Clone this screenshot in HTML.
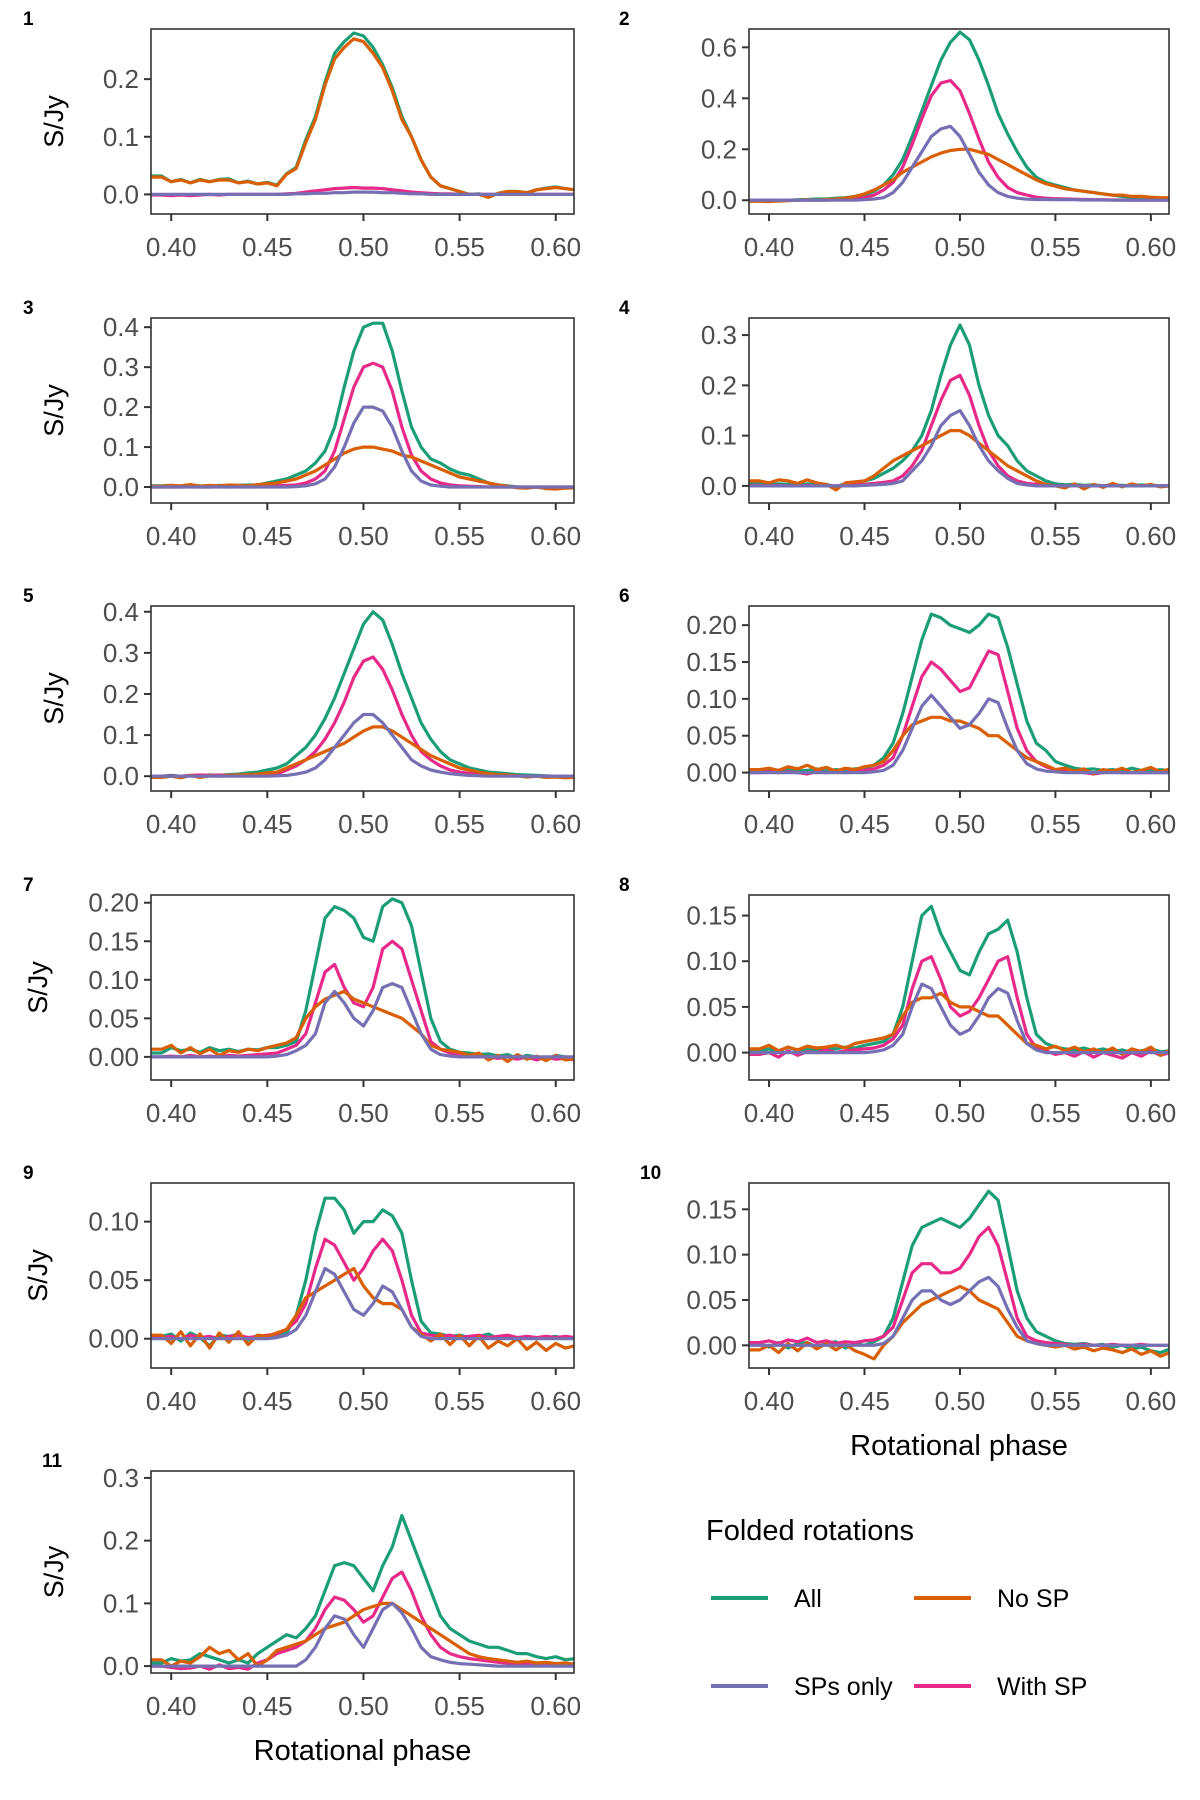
<!DOCTYPE html>
<html><head><meta charset="utf-8"><style>
body{margin:0;background:#fff;}
svg{display:block;font-family:"Liberation Sans",sans-serif;}
</style></head><body>
<svg id="fig" width="1200" height="1800" viewBox="0 0 1200 1800"></svg>
<script>
const xs=[0.395,0.400,0.405,0.410,0.415,0.420,0.425,0.430,0.435,0.440,0.445,0.450,0.455,0.460,0.465,0.470,0.475,0.480,0.485,0.490,0.495,0.500,0.505,0.510,0.515,0.520,0.525,0.530,0.535,0.540,0.545,0.550,0.555,0.560,0.565,0.570,0.575,0.580,0.585,0.590,0.595,0.600,0.605,0.610,0.615];
const seriesNames=["All","No SP","SPs only","With SP"];
const xTicks=[0.40,0.45,0.50,0.55,0.60];
const xTickLabels=["0.40","0.45","0.50","0.55","0.60"];
// panel 1
const p1All=[0.032,0.022,0.026,0.020,0.026,0.022,0.026,0.027,0.020,0.023,0.018,0.021,0.016,0.036,0.047,0.095,0.135,0.195,0.245,0.265,0.28,0.275,0.255,0.225,0.185,0.135,0.100,0.060,0.030,0.015,0.010,0.005,0.000,0.001,-0.005,0.002,0.005,0.005,0.003,0.008,0.011,0.013,0.010,0.008,0.008];
const p1NoSP=[0.030,0.022,0.025,0.020,0.025,0.022,0.025,0.025,0.020,0.022,0.018,0.020,0.015,0.035,0.045,0.090,0.130,0.190,0.235,0.255,0.270,0.265,0.245,0.220,0.180,0.130,0.100,0.060,0.030,0.015,0.010,0.005,0.000,0.000,-0.005,0.002,0.005,0.005,0.003,0.008,0.010,0.012,0.010,0.008,0.008];
const p1SP=[0,0,0,0,0,0,0,0,0,0,0,0,0,0,0.001,0.001,0.002,0.002,0.003,0.003,0.004,0.004,0.004,0.003,0.003,0.002,0.001,0.001,0,0,0,0,0,0,0,0,0,0,0,0,0,0,0,0,0];
const p1With=[-0.001,-0.002,-0.001,-0.002,-0.001,0,-0.001,0,0,0,0,0,0,0.001,0.002,0.004,0.006,0.008,0.010,0.011,0.012,0.011,0.011,0.010,0.008,0.006,0.004,0.003,0.002,0.001,0.001,0,0,0,0,0,0,0,0,0,0,0,0,0,0];
// panel 2
const p2All=[0,-0.002,0,0,0.002,0.003,0.005,0.005,0.008,0.010,0.015,0.020,0.035,0.060,0.100,0.160,0.250,0.350,0.450,0.550,0.620,0.660,0.630,0.550,0.450,0.340,0.260,0.190,0.130,0.090,0.070,0.060,0.050,0.040,0.035,0.030,0.025,0.020,0.015,0.012,0.010,0.010,0.008,0.008,0.008];
const p2NoSP=[-0.004,-0.005,-0.003,-0.002,0,0.002,0,0.003,0.005,0.008,0.015,0.025,0.040,0.060,0.080,0.110,0.130,0.150,0.170,0.185,0.195,0.200,0.200,0.190,0.180,0.160,0.140,0.120,0.100,0.080,0.065,0.055,0.045,0.040,0.035,0.030,0.025,0.020,0.020,0.015,0.015,0.012,0.010,0.010,0.010];
const p2SP=[0,0,0,0,0,0,0,0,0,0,0,0.002,0.005,0.010,0.030,0.070,0.130,0.190,0.250,0.280,0.290,0.250,0.180,0.110,0.060,0.030,0.015,0.008,0.004,0.003,0.003,0.002,0.002,0.002,0.001,0.001,0.001,0,0,0,0,0,0,0,0];
const p2With=[0,0,0,0,0,0,0,0,0.002,0.003,0.005,0.010,0.020,0.040,0.070,0.130,0.220,0.320,0.410,0.460,0.470,0.430,0.340,0.240,0.150,0.090,0.050,0.030,0.020,0.012,0.008,0.006,0.005,0.004,0.003,0.002,0.002,0.001,0.001,0,0,0,0,0,0];
// panel 3
const p3All=[0.003,0.004,0.002,0.005,0.003,0.002,0.004,0.003,0.004,0.005,0.005,0.010,0.015,0.020,0.030,0.040,0.060,0.090,0.150,0.250,0.340,0.400,0.410,0.410,0.340,0.240,0.150,0.100,0.070,0.060,0.045,0.035,0.030,0.020,0.010,0.005,0.003,0,-0.002,0,-0.003,-0.004,-0.002,0,-0.001];
const p3NoSP=[0.002,0.004,0.003,0.006,0.002,0.004,0.003,0.005,0.004,0.003,0.006,0.008,0.010,0.015,0.020,0.030,0.040,0.055,0.070,0.085,0.095,0.100,0.100,0.095,0.090,0.080,0.075,0.065,0.055,0.045,0.035,0.025,0.020,0.015,0.010,0.005,0.002,-0.002,-0.003,0,-0.004,-0.005,-0.003,-0.002,0];
const p3SP=[0,0,0,0,0,0,0,0,0,0,0,0,0,0,0.001,0.003,0.008,0.020,0.050,0.100,0.160,0.200,0.200,0.190,0.150,0.090,0.040,0.015,0.005,0.002,0,0,0,0,0,0,0,0,0,0,0,0,0,0,0];
const p3With=[0,0,0,0.001,0,0,0.001,0,0.001,0,0.002,0.002,0.003,0.004,0.005,0.010,0.020,0.040,0.090,0.170,0.250,0.300,0.310,0.300,0.240,0.150,0.080,0.040,0.020,0.010,0.005,0.003,0.002,0.001,0,0,0,0,0,0,0,0,0,0,0];
// panel 4
const p4All=[0.005,0.002,0.004,0.003,0.001,0.004,0.002,0.003,-0.002,0.005,0.004,0.010,0.015,0.025,0.035,0.050,0.070,0.100,0.150,0.220,0.280,0.320,0.280,0.200,0.140,0.100,0.080,0.050,0.030,0.020,0.010,0.004,0.002,0.003,0.001,0.002,0,0.002,0.001,0,0.002,0.001,0,0,0];
const p4NoSP=[0.010,0.006,0.012,0.010,0.005,0.012,0.006,0.003,-0.008,0.006,0.008,0.010,0.020,0.035,0.050,0.060,0.070,0.080,0.090,0.100,0.110,0.110,0.100,0.085,0.070,0.055,0.040,0.030,0.020,0.010,0.003,0,-0.004,0.004,-0.006,0.003,-0.003,0.005,-0.002,0.004,0,0.003,-0.002,0,0];
const p4SP=[0,0,0,0,0,0,0,0,0,0,0,0.001,0.002,0.003,0.005,0.010,0.030,0.050,0.080,0.120,0.140,0.150,0.120,0.080,0.050,0.030,0.015,0.005,0.002,0,0,0,0,0,0,0,0,0,0,0,0,0,0,0,0];
const p4With=[0.001,0,0.001,0,0,0.001,0,0,0,0.001,0.002,0.003,0.005,0.007,0.010,0.020,0.040,0.070,0.120,0.170,0.210,0.220,0.180,0.120,0.070,0.040,0.020,0.010,0.005,0.003,0.001,0,0,0,0,0,0,0,0,0,0,0,0,0,0];
// panel 5
const p5All=[0,0.002,0,0.001,0.002,0.003,0.002,0.004,0.005,0.008,0.010,0.015,0.020,0.030,0.050,0.070,0.100,0.140,0.190,0.250,0.310,0.370,0.400,0.380,0.320,0.250,0.190,0.130,0.090,0.060,0.040,0.030,0.020,0.015,0.010,0.008,0.006,0.004,0.003,0.002,0.001,0,-0.002,0,-0.003];
const p5NoSP=[-0.003,0,-0.004,0.002,-0.003,0.001,0,0.002,0.003,0.004,0.005,0.008,0.010,0.020,0.030,0.040,0.050,0.060,0.070,0.080,0.095,0.110,0.120,0.120,0.110,0.095,0.080,0.065,0.050,0.040,0.030,0.020,0.015,0.010,0.006,0.004,0.003,0.001,-0.002,0,-0.003,-0.002,-0.004,-0.003,-0.005];
const p5SP=[0,0,0,0,0,0,0,0,0,0,0,0,0.001,0.002,0.005,0.010,0.020,0.040,0.070,0.100,0.130,0.150,0.150,0.130,0.100,0.070,0.040,0.025,0.015,0.010,0.006,0.004,0.002,0.001,0,0,0,0,0,0,0,0,0,0,0];
const p5With=[0,0.001,0,0.002,0.003,0.002,0.003,0.002,0.003,0.002,0.003,0.004,0.005,0.015,0.025,0.040,0.060,0.090,0.130,0.180,0.240,0.280,0.290,0.260,0.210,0.150,0.100,0.060,0.040,0.025,0.015,0.010,0.007,0.005,0.004,0.003,0.002,0.001,0,0,0,0,0,0,0];
// panel 6
const p6All=[0.002,0.003,0.001,0.004,0.002,0.003,0.005,0.002,0.004,0.003,0.005,0.006,0.010,0.020,0.040,0.080,0.130,0.180,0.215,0.210,0.200,0.195,0.190,0.200,0.215,0.210,0.170,0.120,0.070,0.040,0.030,0.015,0.010,0.006,0.004,0.005,0.003,0.004,0.002,0.006,0.003,0.002,0.004,0.002,0.001];
const p6NoSP=[0.004,0.006,0.003,0.008,0.005,0.010,0.004,0.007,0.002,0.006,0.004,0.008,0.010,0.015,0.030,0.050,0.065,0.070,0.075,0.075,0.070,0.070,0.065,0.060,0.050,0.050,0.040,0.030,0.020,0.015,0.010,0.004,0.006,0.002,0.005,-0.002,0.004,0.002,0.006,0,0.003,0.007,0.001,0.005,0.002];
const p6SP=[0,0,0,0,0,0,0,0,0,0,0,0,0.001,0.003,0.010,0.030,0.060,0.090,0.105,0.090,0.075,0.060,0.065,0.080,0.100,0.095,0.060,0.030,0.012,0.005,0.002,0.001,0,0,0,0,0,0,0,0,0,0,0,0,0];
const p6With=[0,0.001,0,0.001,0,-0.002,0.001,0,0.001,0,0.002,0.003,0.005,0.010,0.020,0.050,0.090,0.130,0.150,0.140,0.125,0.110,0.115,0.140,0.165,0.160,0.110,0.060,0.030,0.015,0.008,0.004,0.002,0.001,0,-0.002,0,0.001,0,0,0,0,0,0,0];
// panel 7
const p7All=[0.005,0.012,0.008,0.010,0.006,0.012,0.008,0.010,0.007,0.010,0.009,0.012,0.012,0.015,0.020,0.060,0.120,0.180,0.195,0.190,0.180,0.155,0.150,0.195,0.205,0.200,0.170,0.110,0.050,0.020,0.010,0.006,0.005,0.003,0.004,0.001,0.003,-0.002,0.002,0,-0.003,0.002,0,-0.002,-0.004];
const p7NoSP=[0.010,0.015,0.005,0.012,0.004,0.010,0.002,0.008,0.006,0.010,0.008,0.012,0.015,0.018,0.025,0.050,0.065,0.075,0.080,0.085,0.075,0.070,0.065,0.060,0.055,0.050,0.040,0.030,0.015,0.010,0.008,0.006,0.002,0.005,-0.004,0.002,-0.006,0.003,-0.003,0.001,-0.005,0.002,-0.004,-0.002,-0.005];
const p7SP=[0,0,0,0,0,0,0,0,0,0,0,0,0.001,0.003,0.008,0.015,0.030,0.070,0.085,0.070,0.050,0.040,0.060,0.090,0.095,0.090,0.060,0.030,0.010,0.003,0.001,0,0,0,0,0,0,0,0,0,0,0,0,0,0];
const p7With=[0,0.001,0,0.002,0,0.001,0,0.002,0.001,0.002,0.003,0.004,0.005,0.010,0.015,0.030,0.070,0.110,0.120,0.090,0.070,0.065,0.090,0.140,0.150,0.140,0.100,0.060,0.020,0.010,0.005,0.003,0.001,0,0,-0.002,0,-0.003,0,-0.004,0,-0.003,-0.002,-0.004,-0.005];
// panel 8
const p8All=[0.002,0.004,0.001,0.006,0.002,0.004,0.003,0.005,0.004,0.006,0.005,0.008,0.010,0.012,0.020,0.050,0.100,0.150,0.160,0.130,0.110,0.090,0.085,0.110,0.130,0.135,0.145,0.110,0.060,0.020,0.010,0.006,0.004,0.003,0.005,0.002,0.004,0.001,0.003,0,0.002,0.004,0.001,0.002,0];
const p8NoSP=[0.004,0.008,0.002,0.006,0.003,0.007,0.005,0.006,0.008,0.005,0.010,0.012,0.014,0.016,0.020,0.040,0.055,0.060,0.060,0.065,0.055,0.050,0.050,0.045,0.040,0.040,0.030,0.020,0.010,0.008,0.004,0.007,0.002,0.006,0.001,0.004,0,0.005,-0.002,0.004,0.001,0.006,-0.003,0.003,0];
const p8SP=[0,0,0,0,0,0,0,0,0,0,0,0,0.001,0.003,0.008,0.020,0.050,0.075,0.070,0.050,0.030,0.020,0.025,0.040,0.060,0.070,0.065,0.035,0.010,0.003,0,0,0,0,0,0,0,0,0,0,0,0,0,0,0];
const p8With=[-0.002,0,-0.005,0.002,-0.003,0.001,0,0.003,0,0.002,0.003,0.004,0.005,0.008,0.015,0.030,0.070,0.100,0.105,0.080,0.050,0.040,0.045,0.060,0.080,0.100,0.105,0.060,0.020,0.005,0.002,-0.002,0,-0.004,0.001,-0.005,0,-0.003,-0.006,0,-0.004,0.002,-0.003,0,-0.002];
// panel 9
const p9All=[0.002,0.004,-0.002,0.005,0.001,-0.006,0.003,0.002,0.004,-0.001,0.003,0.002,0.003,0.005,0.020,0.050,0.090,0.120,0.120,0.110,0.090,0.100,0.100,0.110,0.105,0.090,0.050,0.015,0.005,0.004,0.002,0.003,0.001,0.002,0.004,0,0.002,-0.001,0.002,0,0.001,0.002,0,0.001,0];
const p9NoSP=[0.003,-0.004,0.006,-0.006,0.004,-0.008,0.005,-0.003,0.006,-0.005,0.003,0.002,0.005,0.008,0.020,0.035,0.040,0.045,0.050,0.055,0.060,0.045,0.035,0.030,0.030,0.025,0.010,0.004,-0.002,0.004,-0.005,0.003,-0.006,0.002,-0.008,-0.002,-0.006,0,-0.009,-0.003,-0.010,-0.004,-0.008,-0.006,-0.010];
const p9SP=[0,0,0,0,0,0,0,0,0,0,0,0,0.001,0.003,0.008,0.020,0.040,0.060,0.055,0.040,0.025,0.020,0.030,0.045,0.040,0.025,0.010,0.002,0,0,0,0,0,0,0,0,0,0,0,0,0,0,0,0,0];
const p9With=[0.001,0.002,0,0.003,0.001,0.002,0,0.002,0.003,0.001,0.002,0.003,0.004,0.008,0.015,0.030,0.060,0.085,0.080,0.065,0.050,0.060,0.075,0.085,0.075,0.050,0.020,0.005,0.003,0.002,0.003,0.001,0.002,0.003,0.001,0.002,0.003,0.001,0.002,0.001,0.002,0.001,0.002,0.001,0.002];
// panel 10
const p10All=[0.002,-0.002,0.003,-0.003,0.002,0.003,-0.002,0.002,0.004,-0.003,0.002,0,0.004,0.010,0.030,0.070,0.110,0.130,0.135,0.140,0.135,0.130,0.140,0.155,0.170,0.160,0.110,0.060,0.030,0.015,0.010,0.005,0.002,0.001,0.002,0,0.001,-0.002,0,-0.004,-0.002,-0.006,-0.008,-0.004,-0.006];
const p10NoSP=[-0.005,0,-0.008,0.002,-0.006,0.003,-0.004,0.002,-0.005,0.001,-0.006,-0.010,-0.015,0,0.010,0.025,0.035,0.045,0.050,0.055,0.060,0.065,0.060,0.050,0.045,0.040,0.025,0.010,0.005,0.002,0,-0.002,0,-0.004,-0.002,-0.006,-0.003,-0.005,-0.008,-0.004,-0.010,-0.006,-0.012,-0.008,-0.010];
const p10SP=[0,0,0,0,0,0,0,0,0,0,0,0,0,0.002,0.010,0.030,0.050,0.060,0.060,0.050,0.045,0.050,0.060,0.070,0.075,0.065,0.040,0.020,0.005,0.002,0,0,0,0,0,0,0,0,0,0,0,0,0,0,0];
const p10With=[0.003,0.005,0.002,0.006,0.004,0.008,0.003,0.005,0.002,0.004,0.003,0.005,0.006,0.010,0.020,0.050,0.080,0.090,0.090,0.080,0.080,0.085,0.100,0.120,0.130,0.110,0.070,0.030,0.010,0.005,0.003,0.002,0.001,0,0.001,0,0,0.001,0,0,0.001,0,0,0,0];
// panel 11
const p11All=[0.005,0.012,0.008,0.010,0.020,0.015,0.010,0.005,0.010,0.005,0.020,0.030,0.040,0.050,0.045,0.060,0.080,0.120,0.160,0.165,0.160,0.140,0.120,0.160,0.190,0.240,0.200,0.160,0.120,0.080,0.060,0.050,0.040,0.035,0.030,0.030,0.025,0.020,0.020,0.015,0.012,0.015,0.010,0.012,0.008];
const p11NoSP=[0.010,0.000,0.008,0.005,0.015,0.030,0.020,0.025,0.010,0.020,0,0.010,0.025,0.030,0.035,0.040,0.050,0.060,0.065,0.070,0.080,0.090,0.095,0.100,0.100,0.090,0.080,0.070,0.060,0.050,0.040,0.030,0.020,0.015,0.012,0.010,0.008,0.006,0.008,0.005,0.006,0.004,0.005,0.003,0.004];
const p11SP=[0,0,0,0,0,0,0,0,0,0,0,0,0,0,0,0.010,0.030,0.060,0.080,0.075,0.050,0.030,0.060,0.090,0.100,0.085,0.060,0.030,0.015,0.010,0.006,0.004,0.003,0.002,0.001,0,0,0,0,0,0,0,0,0,0];
const p11With=[0,-0.002,-0.004,-0.003,0,-0.005,0.002,-0.004,-0.002,-0.005,0.005,0.010,0.020,0.025,0.030,0.040,0.060,0.090,0.110,0.105,0.090,0.070,0.080,0.110,0.140,0.150,0.120,0.080,0.050,0.030,0.020,0.015,0.012,0.010,0.008,0.006,0.005,0.004,0.003,0.002,0.002,0.001,0.001,0,0];

const colors={"All":"#1B9E77","No SP":"#D95F02","SPs only":"#7570B3","With SP":"#E7298A"};
const panels=[
 {n:"1",x0:151,x1:574,y0:29,y1:214,ymin:-0.034,ymax:0.287,yt:[0,0.1,0.2],yl:["0.0","0.1","0.2"],d:[p1All,p1NoSP,p1SP,p1With],tagx:23,tx:54},
 {n:"2",x0:749,x1:1169,y0:29,y1:214,ymin:-0.054,ymax:0.672,yt:[0,0.2,0.4,0.6],yl:["0.0","0.2","0.4","0.6"],d:[p2All,p2NoSP,p2SP,p2With],tagx:619},
 {n:"3",x0:151,x1:574,y0:318,y1:503,ymin:-0.04,ymax:0.423,yt:[0,0.1,0.2,0.3,0.4],yl:["0.0","0.1","0.2","0.3","0.4"],d:[p3All,p3NoSP,p3SP,p3With],tagx:23,tx:54},
 {n:"4",x0:749,x1:1169,y0:318,y1:503,ymin:-0.034,ymax:0.334,yt:[0,0.1,0.2,0.3],yl:["0.0","0.1","0.2","0.3"],d:[p4All,p4NoSP,p4SP,p4With],tagx:619},
 {n:"5",x0:151,x1:574,y0:606,y1:791,ymin:-0.036,ymax:0.414,yt:[0,0.1,0.2,0.3,0.4],yl:["0.0","0.1","0.2","0.3","0.4"],d:[p5All,p5NoSP,p5SP,p5With],tagx:23,tx:54},
 {n:"6",x0:749,x1:1169,y0:606,y1:791,ymin:-0.025,ymax:0.226,yt:[0,0.05,0.1,0.15,0.2],yl:["0.00","0.05","0.10","0.15","0.20"],d:[p6All,p6NoSP,p6SP,p6With],tagx:619},
 {n:"7",x0:151,x1:574,y0:895,y1:1080,ymin:-0.03,ymax:0.21,yt:[0,0.05,0.1,0.15,0.2],yl:["0.00","0.05","0.10","0.15","0.20"],d:[p7All,p7NoSP,p7SP,p7With],tagx:23,tx:38},
 {n:"8",x0:749,x1:1169,y0:895,y1:1080,ymin:-0.03,ymax:0.1725,yt:[0,0.05,0.1,0.15],yl:["0.00","0.05","0.10","0.15"],d:[p8All,p8NoSP,p8SP,p8With],tagx:619},
 {n:"9",x0:151,x1:574,y0:1183,y1:1368,ymin:-0.025,ymax:0.133,yt:[0,0.05,0.1],yl:["0.00","0.05","0.10"],d:[p9All,p9NoSP,p9SP,p9With],tagx:23,tx:38},
 {n:"10",x0:749,x1:1169,y0:1183,y1:1368,ymin:-0.025,ymax:0.179,yt:[0,0.05,0.1,0.15],yl:["0.00","0.05","0.10","0.15"],d:[p10All,p10NoSP,p10SP,p10With],tagx:640,xt:true},
 {n:"11",x0:151,x1:574,y0:1471,y1:1673,ymin:-0.011,ymax:0.311,yt:[0,0.1,0.2,0.3],yl:["0.0","0.1","0.2","0.3"],d:[p11All,p11NoSP,p11SP,p11With],tagx:42,tx:54,xt:true}
];
const NS="http://www.w3.org/2000/svg";
const svg=document.getElementById("fig");
function mk(tag,attrs,parent,text){const e=document.createElementNS(NS,tag);for(const k in attrs)e.setAttribute(k,attrs[k]);if(text!==undefined)e.textContent=text;(parent||svg).appendChild(e);return e;}
const xmin=0.3895,xmax=0.6095;
panels.forEach(p=>{
 const g=mk("g",{});
 
 
 const sx=v=>p.x0+(v-xmin)/(xmax-xmin)*(p.x1-p.x0);
 const sy=v=>p.y1-(v-p.ymin)/(p.ymax-p.ymin)*(p.y1-p.y0);
 const tag=mk("text",{x:p.tagx,y:p.y0-4,"font-size":19,"font-weight":"bold",fill:"#000"},g,p.n);
 
 
 const clipId="c"+p.n;
 const cp=mk("clipPath",{id:clipId},g);mk("rect",{x:p.x0,y:p.y0,width:p.x1-p.x0,height:p.y1-p.y0},cp);
 const lg=mk("g",{"clip-path":"url(#"+clipId+")"},g);
 const drawOrder=[0,3,1,2];
 drawOrder.forEach(si=>{
  const arr=p.d[si];
  const name=seriesNames[si];
  const pts=sx(xmin).toFixed(1)+","+sy(arr[0]).toFixed(1)+" "+arr.map((v,i)=>sx(xs[i]).toFixed(1)+","+sy(v).toFixed(1)).join(" ");
  const pl=mk("polyline",{points:pts,fill:"none",stroke:colors[name],"stroke-width":3.2,"stroke-linejoin":"round"},lg);
  
  
 });
 const box=mk("rect",{x:p.x0,y:p.y0,width:p.x1-p.x0,height:p.y1-p.y0,fill:"none",stroke:"#333","stroke-width":1.6},g);
 
 
 p.yt.forEach((v,i)=>{
  const y=sy(v);
  mk("line",{x1:p.x0-7,x2:p.x0,y1:y,y2:y,stroke:"#333","stroke-width":2},g);
  const t=mk("text",{x:p.x0-12,y:y+9,"text-anchor":"end","font-size":26,fill:"#4d4d4d"},g,p.yl[i]);
  
  
 });
 xTicks.forEach((v,i)=>{
  const x=sx(v);
  mk("line",{x1:x,x2:x,y1:p.y1,y2:p.y1+7,stroke:"#333","stroke-width":2},g);
  const t=mk("text",{x:x,y:p.y1+42,"text-anchor":"middle","font-size":26,fill:"#4d4d4d"},g,xTickLabels[i]);
  
  
 });
 if(p.tx){
  const cy=(p.y0+p.y1)/2;
  const t=mk("text",{x:p.tx,y:cy,"text-anchor":"middle","font-size":27,fill:"#000",transform:"rotate(-90 "+p.tx+" "+cy+")",dy:9},g,"S/Jy");
  
  
 }
 if(p.xt){
  const t=mk("text",{x:(p.x0+p.x1)/2,y:p.y1+87,"text-anchor":"middle","font-size":29,fill:"#000"},g,"Rotational phase");
  
  
 }
});
const lg=mk("g",{});


const lt=mk("text",{x:706,y:1540,"font-size":29,fill:"#000"},lg,"Folded rotations");


const legPos=[[711,1598],[914,1598],[711,1686],[914,1686]];
const legOrder=["All","No SP","SPs only","With SP"];
legOrder.forEach((nm,i)=>{
 const [x,y]=legPos[i];
 const e=mk("g",{},lg);
 
 
 mk("line",{x1:x,x2:x+57,y1:y,y2:y,stroke:colors[nm],"stroke-width":4},e);
 mk("text",{x:x+83,y:y+9,"font-size":25,fill:"#000"},e,nm);
});
</script>
</body></html>
